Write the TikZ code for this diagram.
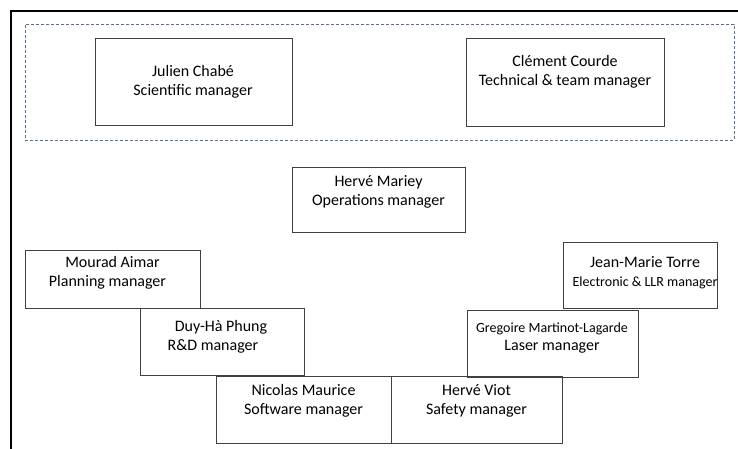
\documentclass[tikz,border=0pt]{standalone}
\usepackage{fontspec}
\setmainfont{Carlito}
\definecolor{boxline}{RGB}{64,64,64}
\definecolor{dashline}{RGB}{84,112,140}
\begin{document}
\begin{tikzpicture}[x=1pt,y=-1pt,
  role/.style={draw=boxline,line width=0.8pt,inner sep=0pt,anchor=north west},
  lbl/.style={anchor=north,inner sep=0pt,align=center,font=\fontsize{16}{19.2}\selectfont,text=black},
  small/.style={}]
\useasboundingbox (0,0) rectangle (738,449);
% frame
\draw[line width=2pt,black] (11,449) -- (11,11) -- (738,11);
% dashed group
\node[draw=dashline,line width=0.8pt,dash pattern=on 3pt off 2pt,inner sep=0pt,anchor=north west,minimum width=709pt,minimum height=116pt] (group) at (25,24) {};
% boxes
\node[role,minimum width=197pt,minimum height=87pt] (julien) at (95,38) {};
\node[role,minimum width=198pt,minimum height=88pt] (clement) at (466,38) {};
\node[role,minimum width=173pt,minimum height=65pt] (mariey) at (292,167) {};
\node[role,minimum width=175pt,minimum height=58pt] (mourad) at (25,250) {};
\node[role,minimum width=154pt,minimum height=66pt] (torre) at (563,242) {};
\node[role,minimum width=164pt,minimum height=67pt] (duyha) at (140,308) {};
\node[role,minimum width=171pt,minimum height=67pt] (gregoire) at (467,310) {};
\node[role,minimum width=175pt,minimum height=67pt] (nicolas) at (216,376) {};
\node[role,minimum width=171pt,minimum height=67pt] (viot) at (391,376) {};
% labels
\node[lbl] (julient) at (193,62.5) {\strut Julien Chabé\\Scientific manager};
\node[lbl] (clementt) at (565,52.5) {\strut Clément Courde\\Technical \& team manager};
\node[lbl] (marieyt) at (378.5,172.5) {\strut Hervé Mariey\\Operations manager};
\node[lbl] (mouradt) at (112.5,253.5) {\strut Mourad Aimar\\Planning manager\hspace*{10pt}};
\node[lbl] (torret) at (645,253.5) {\strut Jean-Marie Torre\\{\fontsize{14}{17}\selectfont Electronic \& LLR manager}};
\node[lbl] (duyhat) at (221,317.5) {\strut Duy-Hà Phung\\R\&D manager\hspace*{16pt}};
\node[lbl] (gregoiret) at (552,318.5) {\strut{\fontsize{14}{17}\selectfont Gregoire Martinot-Lagarde}\\[-1pt]Laser manager};
\node[lbl] (nicolast) at (303.5,381.5) {\strut Nicolas Maurice\\Software manager};
\node[lbl] (viott) at (476.5,381.5) {\strut Hervé Viot\\Safety manager};
\end{tikzpicture}
\end{document}
